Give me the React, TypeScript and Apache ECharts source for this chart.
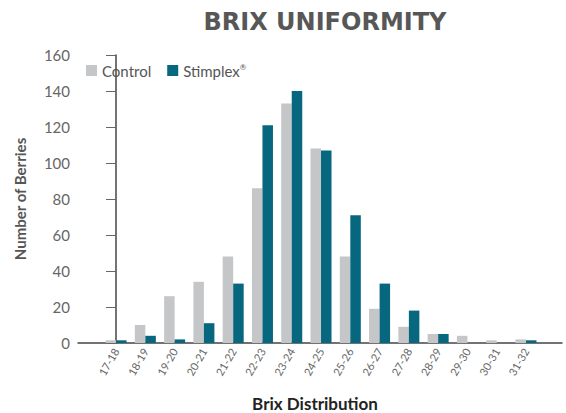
import React, { useEffect, useRef } from "react";
import * as echarts from "echarts";

const categories = ["17-18", "18-19", "19-20", "20-21", "21-22", "22-23", "23-24", "24-25", "25-26", "26-27", "27-28", "28-29", "29-30", "30-31", "31-32"];
const controlValues = [1.5, 10, 26, 34, 48, 86, 133, 108, 48, 19, 9, 5, 4, 1.5, 2];
const stimplexValues = [1.5, 4, 2, 11, 33, 121, 140, 107, 71, 33, 18, 5, 0, 0, 1.5];
const yTicks = [0, 20, 40, 60, 80, 100, 120, 140, 160];

const FONT = "Lato, 'Open Sans', sans-serif";

export default function App() {
  const ref = useRef<HTMLDivElement>(null);
  useEffect(() => {
    const chart = echarts.init(ref.current!, null, { renderer: "svg" });
    const idx = categories.map((_, i) => i);
    chart.setOption({
      animation: false,
      backgroundColor: "#ffffff",
      title: {
        text: "BRIX UNIFORMITY",
        left: 320,
        top: 5,
        textAlign: "center",
        textStyle: { fontFamily: "'DejaVu Sans', sans-serif", fontWeight: "bold", fontSize: 24, color: "#575757" },
      },
      legend: {
        left: 86,
        top: 63,
        itemWidth: 11,
        itemHeight: 11,
        itemGap: 16,
        icon: "rect",
        padding: 0,
        data: ["Control", "Stimplex"],
        formatter: (name: string) => (name === "Stimplex" ? "{a|Stimplex}{s|®}" : "{a|" + name + "}"),
        textStyle: {
          rich: {
            a: { fontFamily: FONT, fontSize: 15, color: "#555555" },
            s: { fontFamily: FONT, fontSize: 8, color: "#555555", verticalAlign: "top", padding: [0, 0, 6, 0] },
          },
        },
      },
      grid: { left: 78, right: 4, top: 55, bottom: 70, outerBoundsMode: "none", containLabel: false },
      xAxis: {
        type: "value",
        min: -1.3,
        max: 15.23,
        splitLine: { show: false },
        axisLine: { show: true, onZero: false, lineStyle: { color: "#444444", width: 1.5 } },
        axisTick: { show: false },
        axisLabel: {
          customValues: idx,
          rotate: 60,
          margin: 6,
          fontFamily: FONT,
          fontSize: 11,
          color: "#666666",
          formatter: (v: number) => categories[Math.round(v)] ?? "",
        },
        name: "Brix Distribution",
        nameLocation: "middle",
        nameGap: 52,
        nameTextStyle: { fontFamily: FONT, fontWeight: "bold", fontSize: 17, color: "#222222", padding: [0, 10, 0, 0] },
      },
      yAxis: {
        type: "value",
        min: 0,
        max: 160,
        interval: 20,
        splitLine: { show: false },
        axisLine: { show: true, lineStyle: { color: "#444444", width: 1.5 } },
        axisTick: { show: true, length: 10, lineStyle: { color: "#666666" } },
        axisLabel: {
          margin: 8,
          fontFamily: FONT,
          fontSize: 15,
          color: "#666666",
          customValues: yTicks,
        },
        name: "Number of Berries",
        nameLocation: "middle",
        nameGap: 51,
        nameTextStyle: { fontFamily: FONT, fontWeight: "bold", fontSize: 15, color: "#555555" },
      },
      series: [
        {
          name: "Control",
          type: "bar",
          barWidth: 10.5,
          barGap: "0%",
          itemStyle: { color: "#c5c6c8" },
          data: controlValues.map((v, i) => [i, v]),
        },
        {
          name: "Stimplex",
          type: "bar",
          barWidth: 10.5,
          barGap: "0%",
          itemStyle: { color: "#07677f" },
          data: stimplexValues.map((v, i) => [i, v]),
        },
      ],
    });
    return () => chart.dispose();
  }, []);
  return <div ref={ref} style={{ width: 566, height: 413, position: "absolute", left: 0, top: 0 }} />;
}
